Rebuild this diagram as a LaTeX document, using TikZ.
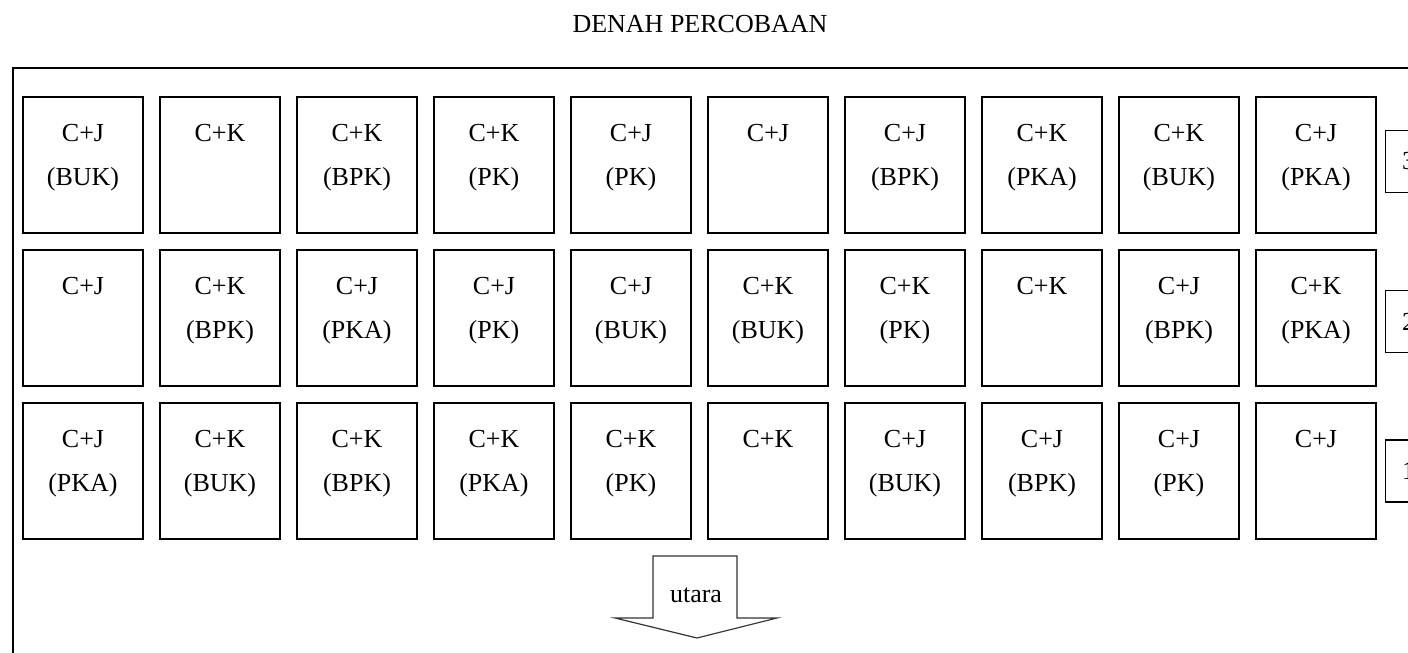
\documentclass[tikz,border=0pt]{standalone}
\usepackage{fontspec}
\setmainfont{Liberation Serif}
\usetikzlibrary{positioning}
\tikzset{
plot/.style={draw, line width=1.6pt, minimum width=120pt, minimum height=136pt, inner sep=0pt}, % one plot of the field
plotlabel/.style={anchor=north, inner sep=0pt, align=center, font=\fontsize{26}{44}\selectfont}, % treatment written in a plot
rowtag/.style={draw, line width=1.6pt, minimum width=46pt, minimum height=62pt, inner sep=0pt, font=\fontsize{26}{30}\selectfont}, % number of the row
frame/.style={line width=1.6pt}, % border of the field
}

\begin{document}
\begin{tikzpicture}[x=1pt, y=1pt]
      \useasboundingbox (0,0) rectangle (1408,653);
      \node[anchor=base, inner sep=0pt, font=\fontsize{26}{30}\selectfont] (title) at (700,620) {DENAH PERCOBAAN};

      \draw[frame] (1420,585) -- (13,585) -- (13,-10);

      % row 3
      \foreach \lab [count=\i] in {{C+J\\(BUK)}, {C+K}, {C+K\\(BPK)}, {C+K\\(PK)}, {C+J\\(PK)}, {C+J}, {C+J\\(BPK)}, {C+K\\(PKA)}, {C+K\\(BUK)}, {C+J\\(PKA)}} {
        \node[plot] (r3c\i) at ({83+137*(\i-1)},488) {};
        \node[plotlabel, below=28pt of r3c\i.north] (l3c\i) {\lab};
      }
      % row 2
      \foreach \lab [count=\i] in {{C+J}, {C+K\\(BPK)}, {C+J\\(PKA)}, {C+J\\(PK)}, {C+J\\(BUK)}, {C+K\\(BUK)}, {C+K\\(PK)}, {C+K}, {C+J\\(BPK)}, {C+K\\(PKA)}} {
        \node[plot] (r2c\i) at ({83+137*(\i-1)},335) {};
        \node[plotlabel, below=28pt of r2c\i.north] (l2c\i) {\lab};
      }
      % row 1
      \foreach \lab [count=\i] in {{C+J\\(PKA)}, {C+K\\(BUK)}, {C+K\\(BPK)}, {C+K\\(PKA)}, {C+K\\(PK)}, {C+K}, {C+J\\(BUK)}, {C+J\\(BPK)}, {C+J\\(PK)}, {C+J}} {
        \node[plot] (r1c\i) at ({83+137*(\i-1)},182) {};
        \node[plotlabel, below=28pt of r1c\i.north] (l1c\i) {\lab};
      }

      \node[rowtag, right=8pt of r3c10, yshift=3.5pt] (tag3) {3};
      \node[rowtag, right=8pt of r2c10, yshift=-3.5pt] (tag2) {2};
      \node[rowtag, right=8pt of r1c10] (tag1) {1};

      % arrow to the north
      \draw[line width=1.2pt, draw=black!80] (653,97) -- (737,97) -- (737,35) -- (777,35) -- (697,15) -- (615,35) -- (653,35) -- cycle;
      \node[anchor=base, inner sep=0pt, font=\fontsize{26}{30}\selectfont] (utara) at (696,50) {utara};
    \end{tikzpicture}
\end{document}
